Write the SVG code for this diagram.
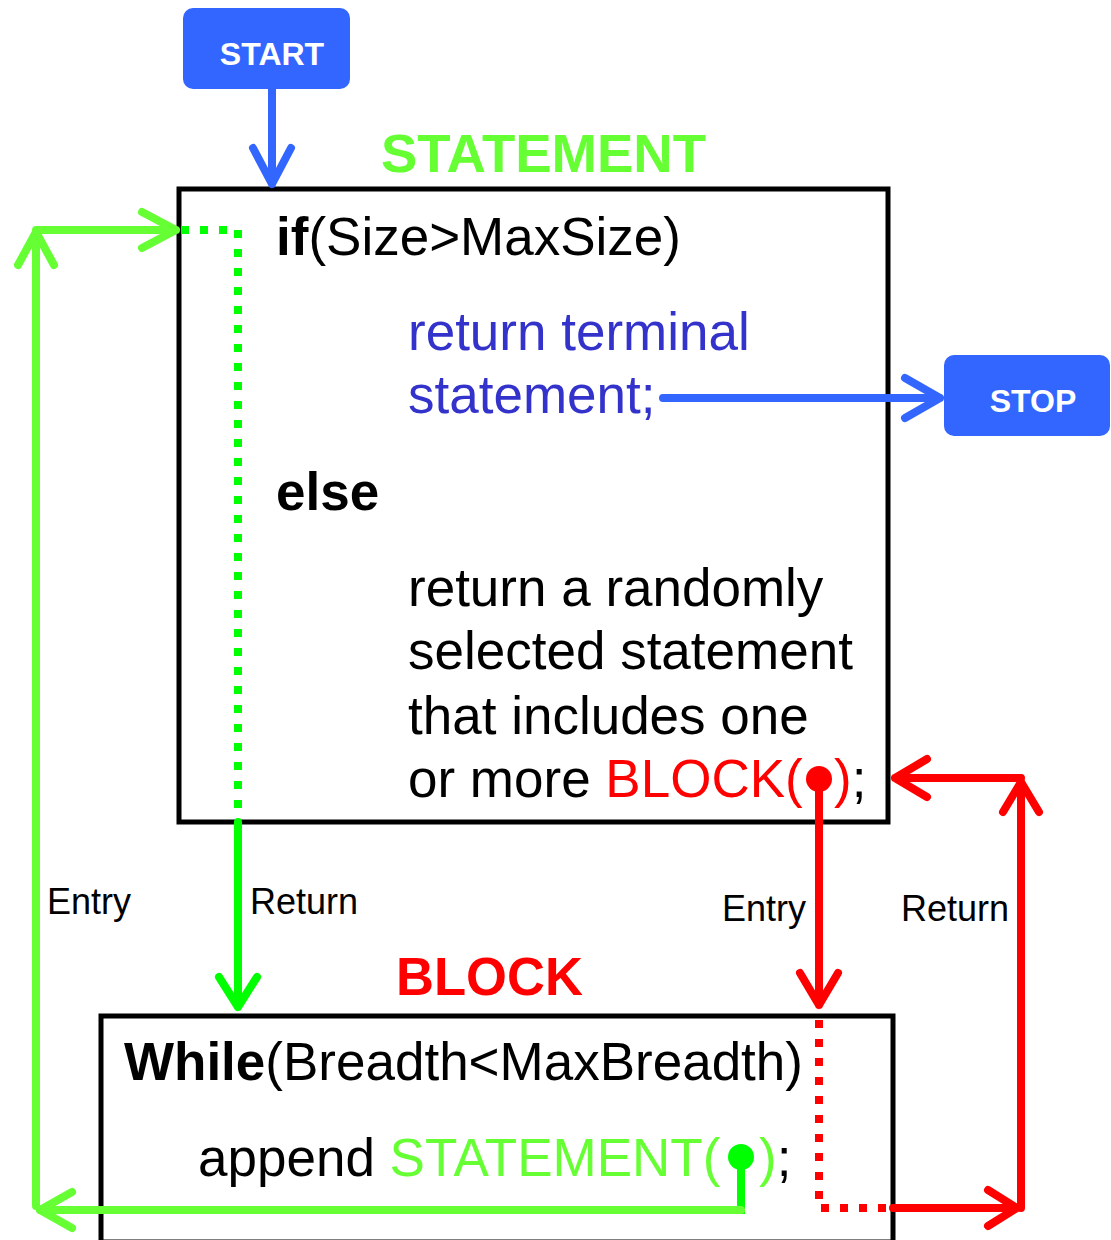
<svg xmlns="http://www.w3.org/2000/svg" width="1111" height="1240" viewBox="0 0 1111 1240">
  <style>
    text { font-family: "Liberation Sans", Arial, sans-serif; }
    .code { font-size: 53px; fill: #000; }
    .b { font-weight: bold; }
    .title { font-size: 54px; font-weight: bold; }
    .lbl { font-size: 36px; fill: #000; }
    .term { fill: #3366FF; }
    .termtxt { font-size: 32px; font-weight: bold; fill: #fff; }
    .box { fill: #fff; stroke: #000; stroke-width: 5; }
    .ln { fill: none; stroke-linecap: round; stroke-linejoin: round; }
    .blue { stroke: #3366FF; stroke-width: 8; }
    .lime { stroke: #66FF33; stroke-width: 8; }
    .green { stroke: #00FF00; stroke-width: 8; }
    .red { stroke: #FF0000; stroke-width: 8; }
    .dot { stroke-dasharray: 8 11; stroke-linecap: butt; }
  </style>

  <!-- terminals -->
  <g id="start">
    <rect class="term" x="183" y="8" width="167" height="81" rx="10"/>
    <text class="termtxt" x="272" y="65" text-anchor="middle">START</text>
  </g>
  <g id="stop">
    <rect class="term" x="944" y="355" width="166" height="81" rx="10"/>
    <text class="termtxt" x="1033" y="412" text-anchor="middle">STOP</text>
  </g>

  <!-- STATEMENT rule -->
  <g id="statement">
    <text class="title" x="381" y="172" fill="#66FF33" textLength="325" lengthAdjust="spacingAndGlyphs">STATEMENT</text>
    <rect class="box" x="179" y="189" width="709" height="633"/>
    <text class="code" x="276" y="255"><tspan class="b">if</tspan>(Size&gt;MaxSize)</text>
    <text class="code" x="408" y="350" style="fill:#3333CC">return terminal</text>
    <text class="code" x="408" y="413" style="fill:#3333CC">statement;</text>
    <text class="code b" x="276" y="510">else</text>
    <text class="code" x="408" y="606">return a randomly</text>
    <text class="code" x="408" y="669">selected statement</text>
    <text class="code" x="408" y="734">that includes one</text>
    <text class="code" x="408" y="797">or more <tspan style="fill:#FF0000">BLOCK(</tspan></text>
    <text class="code" x="834" y="797"><tspan style="fill:#FF0000">)</tspan>;</text>
  </g>

  <!-- BLOCK rule -->
  <g id="block">
    <text class="title" x="396" y="995" fill="#FF0000" textLength="187" lengthAdjust="spacingAndGlyphs">BLOCK</text>
    <rect class="box" x="101" y="1016" width="792" height="226"/>
    <text class="code" x="124" y="1080"><tspan class="b">While</tspan>(Breadth&lt;MaxBreadth)</text>
    <text class="code" x="198" y="1176">append <tspan style="fill:#66FF33">STATEMENT(</tspan></text>
    <text class="code" x="759" y="1176"><tspan style="fill:#66FF33">)</tspan>;</text>
  </g>

  <!-- connectors -->
  <g id="connectors">
    <!-- START to STATEMENT -->
    <path class="ln blue" d="M272 89 V184 M253 148 L272 184 L291 148"/>
    <!-- terminal statement to STOP -->
    <path class="ln blue" d="M663 398 H940 M905 378 L940 398 L905 418"/>

    <!-- STATEMENT call from BLOCK: entry loop on the left -->
    <path class="ln lime" d="M36 1206 V232 M18 265 L36 232 L54 265"/>
    <path class="ln lime" d="M36 230 H176 M142 212 L176 230 L142 248"/>
    <path class="ln green dot" d="M181 230 H238 V818"/>
    <path class="ln green" d="M238 822 V1007 M219 977 L238 1007 L257 977"/>
    <text class="lbl" x="47" y="914">Entry</text>
    <text class="lbl" x="250" y="914">Return</text>

    <!-- return back to the STATEMENT call site in BLOCK -->
    <circle cx="741" cy="1157" r="13" fill="#00FF00"/>
    <path class="green" d="M741 1157 V1214" fill="none" stroke-width="7"/>
    <path class="ln lime" d="M741 1210 H40" stroke-width="10"/>
    <path class="ln lime" d="M72 1192 L40 1210 L72 1228"/>

    <!-- BLOCK call from STATEMENT -->
    <circle cx="819" cy="779" r="13" fill="#FF0000"/>
    <path class="ln red" d="M819 779 V1005 M800 973 L819 1005 L838 973"/>
    <path class="ln red dot" d="M819 1020 V1208 H888"/>
    <path class="ln red" d="M893 1208 H1017 M988 1190 L1017 1208 L988 1226"/>
    <path class="ln red" d="M1021 1208 V782 M1003 812 L1021 782 L1039 812"/>
    <path class="ln red" d="M1021 778 H895 M927 759 L895 778 L927 797"/>
    <text class="lbl" x="722" y="921">Entry</text>
    <text class="lbl" x="901" y="921">Return</text>
  </g>
</svg>
